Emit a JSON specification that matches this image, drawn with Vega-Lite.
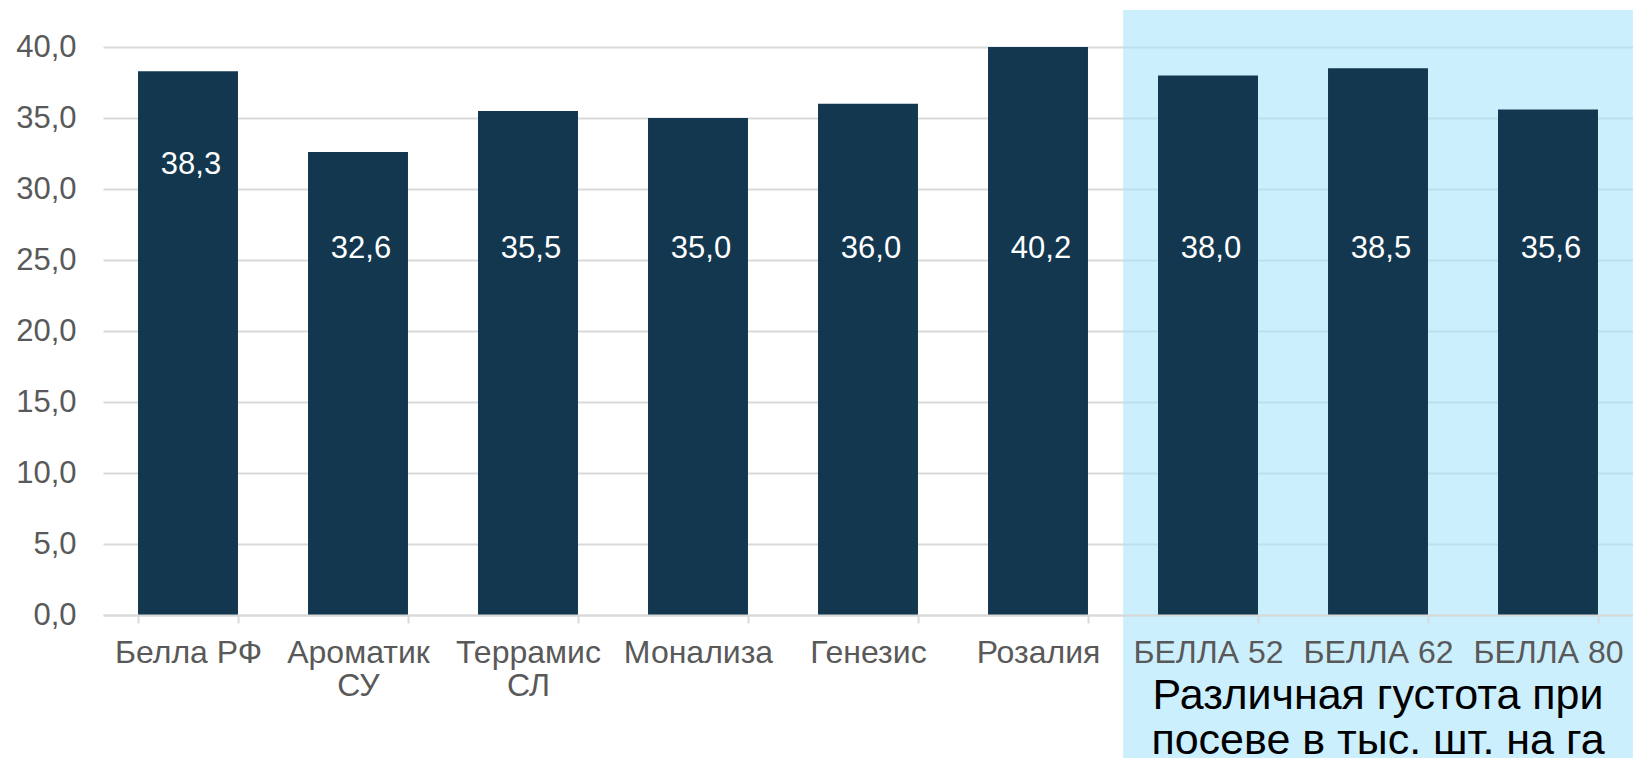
{
  "$schema": "https://vega.github.io/schema/vega-lite/v6.json",
  "autosize": {"type": "none"},
  "width": 1530,
  "height": 568,
  "padding": {"left": 103, "top": 47, "right": 0, "bottom": 143},
  "background": "white",
  "config": {
    "view": {"stroke": null},
    "font": "Liberation Sans",
    "locale": {"number": {"decimal": ",", "thousands": " ", "grouping": [3], "currency": ["", ""]}}
  },
  "data": {
    "values": [
      {"cat": "Белла РФ", "value": 38.3},
      {"cat": "Ароматик СУ", "value": 32.6},
      {"cat": "Террамис СЛ", "value": 35.5},
      {"cat": "Монализа", "value": 35.0},
      {"cat": "Генезис", "value": 36.0},
      {"cat": "Розалия", "value": 40.2},
      {"cat": "БЕЛЛА 52", "value": 38.0},
      {"cat": "БЕЛЛА 62", "value": 38.5},
      {"cat": "БЕЛЛА 80", "value": 35.6}
    ]
  },
  "layer": [
    {
      "transform": [{"filter": "datum.cat === 'БЕЛЛА 62'"}],
      "mark": {"type": "bar", "color": "#AAE4FC", "opacity": 0.6, "width": {"band": 5.1}},
      "encoding": {
        "x": {"field": "cat", "type": "nominal",
              "scale": {"domain": ["Белла РФ", "Ароматик СУ", "Террамис СЛ", "Монализа", "Генезис", "Розалия", "БЕЛЛА 52", "БЕЛЛА 62", "БЕЛЛА 80"], "paddingInner": 0.412, "paddingOuter": 0.206}},
        "y": {"datum": 42.6, "type": "quantitative", "scale": {"domain": [0, 40], "nice": false}},
        "y2": {"datum": -10.2}
      }
    },
    {
      "mark": {"type": "bar", "color": "#12374F", "clip": true},
      "encoding": {
        "x": {"field": "cat", "type": "nominal",
              "scale": {"domain": ["Белла РФ", "Ароматик СУ", "Террамис СЛ", "Монализа", "Генезис", "Розалия", "БЕЛЛА 52", "БЕЛЛА 62", "БЕЛЛА 80"], "paddingInner": 0.412, "paddingOuter": 0.206},
              "axis": {
                "title": null, "zindex": 1, "labelAngle": 0, "labelAlign": "center", "labelBaseline": "top",
                "labelFontSize": 32, "labelColor": "#595959",
                "labelPadding": 14, "labelLimit": 0, "labelOverlap": false, "labelLineHeight": 33,
                "labelExpr": "datum.label === 'Ароматик СУ' ? ['Ароматик', 'СУ'] : datum.label === 'Террамис СЛ' ? ['Террамис', 'СЛ'] : datum.label",
                "domainColor": "#D9D9D9", "domainWidth": 2, "tickColor": "#D9D9D9", "tickWidth": 2, "tickSize": 8, "tickBand": "extent"
              }},
        "y": {"field": "value", "type": "quantitative", "scale": {"domain": [0, 40], "nice": false},
              "axis": {
                "title": null, "values": [0, 5, 10, 15, 20, 25, 30, 35, 40], "format": ".1f",
                "domain": false, "ticks": false, "grid": true, "gridColor": "#D9D9D9", "gridWidth": 2,
                "labelFontSize": 31, "labelColor": "#595959", "labelPadding": 27,
                "labelAlign": "right", "labelBaseline": "middle"
              }}
      }
    },
    {
      "transform": [{"filter": "datum.cat !== 'Белла РФ'"}],
      "mark": {"type": "text", "color": "white", "fontSize": 31, "align": "center", "baseline": "middle", "dx": 3},
      "encoding": {
        "x": {"field": "cat", "type": "nominal",
              "scale": {"domain": ["Белла РФ", "Ароматик СУ", "Террамис СЛ", "Монализа", "Генезис", "Розалия", "БЕЛЛА 52", "БЕЛЛА 62", "БЕЛЛА 80"], "paddingInner": 0.412, "paddingOuter": 0.206}},
        "y": {"datum": 25.8, "type": "quantitative", "scale": {"domain": [0, 40], "nice": false}},
        "text": {"field": "value", "type": "quantitative", "format": ".1f"}
      }
    },
    {
      "transform": [{"filter": "datum.cat === 'Белла РФ'"}],
      "mark": {"type": "text", "color": "white", "fontSize": 31, "align": "center", "baseline": "middle", "dx": 3},
      "encoding": {
        "x": {"field": "cat", "type": "nominal",
              "scale": {"domain": ["Белла РФ", "Ароматик СУ", "Террамис СЛ", "Монализа", "Генезис", "Розалия", "БЕЛЛА 52", "БЕЛЛА 62", "БЕЛЛА 80"], "paddingInner": 0.412, "paddingOuter": 0.206}},
        "y": {"datum": 31.7, "type": "quantitative", "scale": {"domain": [0, 40], "nice": false}},
        "text": {"field": "value", "type": "quantitative", "format": ".1f"}
      }
    },
    {
      "data": {"values": [{"note": "Различная густота при посеве в тыс. шт. на га"}]},
      "mark": {"type": "text", "color": "black", "fontSize": 43, "align": "center", "baseline": "alphabetic", "lineHeight": 45,
               "text": ["Различная густота при", "посеве в тыс. шт. на га"]},
      "encoding": {
        "x": {"datum": "БЕЛЛА 62", "type": "nominal",
              "scale": {"domain": ["Белла РФ", "Ароматик СУ", "Террамис СЛ", "Монализа", "Генезис", "Розалия", "БЕЛЛА 52", "БЕЛЛА 62", "БЕЛЛА 80"], "paddingInner": 0.412, "paddingOuter": 0.206}},
        "y": {"datum": -6.6, "type": "quantitative", "scale": {"domain": [0, 40], "nice": false}}
      }
    }
  ]
}
